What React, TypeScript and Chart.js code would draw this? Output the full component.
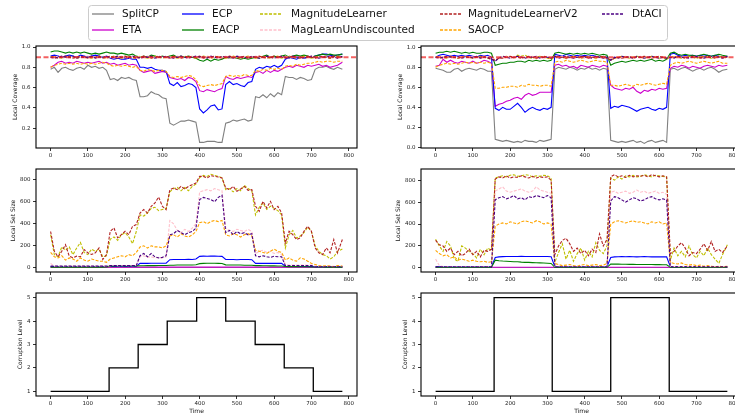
import React, { useEffect, useRef } from 'react';
import { Chart, registerables } from 'chart.js';

Chart.register(...registerables);

// ---------------- DATA ----------------
const METHODS = ['SplitCP', 'ETA', 'ECP', 'EACP', 'MagnitudeLearner', 'MagLearnUndiscounted', 'MagnitudeLearnerV2', 'SAOCP', 'DtACI'];
const COLORS = ['#808080', '#cc00cc', '#0000ff', '#008000', '#bfbf00', '#ffc0cb', '#b22222', '#ffa500', '#4b0082'];
const DASHED = [false, false, false, false, true, true, true, true, true];

const TIME = [
  0, 10, 20, 30, 40, 50, 60, 70, 80, 90,
  100, 110, 120, 130, 140, 150, 160, 170, 180, 190,
  200, 210, 220, 230, 240, 250, 260, 270, 280, 290,
  300, 310, 320, 330, 340, 350, 360, 370, 380, 390,
  400, 410, 420, 430, 440, 450, 460, 470, 480, 490,
  500, 510, 520, 530, 540, 550, 560, 570, 580, 590,
  600, 610, 620, 630, 640, 650, 660, 670, 680, 690,
  700, 710, 720, 730, 740, 750, 760, 770,
  783,
];

const TARGET_COVERAGE = 0.9;
const X_TICKS = [0, 100, 200, 300, 400, 500, 600, 700, 800];
const COV_TICKS_L = [0.2, 0.4, 0.6, 0.8, 1.0];
const COV_TICKS_R = [0.0, 0.2, 0.4, 0.6, 0.8, 1.0];
const SIZE_TICKS = [0, 200, 400, 600, 800];
const LEVEL_TICKS = [1, 2, 3, 4, 5];

const LEVEL_TIMES_L = [0, 157, 235, 313, 392, 470, 549, 627, 705, 783];
const LEVEL_VALUES_L = [1, 2, 3, 4, 5, 4, 3, 2, 1, 1];
const LEVEL_TIMES_R = [0, 157, 313, 470, 627, 783];
const LEVEL_VALUES_R = [1, 5, 1, 5, 1, 1];

// ----- Local coverage, gradual corruption (left) -----
const COV_L_SPLITCP = [
  0.78, 0.80, 0.75, 0.79, 0.80, 0.78, 0.77, 0.79, 0.80, 0.78,
  0.82, 0.80, 0.81, 0.79, 0.80, 0.77, 0.68, 0.69, 0.67, 0.70,
  0.69, 0.70, 0.68, 0.67, 0.51, 0.51, 0.52, 0.56, 0.54, 0.53,
  0.50, 0.49, 0.25, 0.23, 0.25, 0.27, 0.27, 0.28, 0.27, 0.26,
  0.06, 0.06, 0.07, 0.07, 0.07, 0.06, 0.06, 0.25, 0.26, 0.28,
  0.27, 0.28, 0.29, 0.27, 0.28, 0.51, 0.50, 0.53, 0.50, 0.54,
  0.51, 0.55, 0.53, 0.71, 0.70, 0.70, 0.68, 0.70, 0.69, 0.67,
  0.68, 0.78, 0.80, 0.80, 0.81, 0.79, 0.78, 0.80,
  0.78,
];
const COV_L_ETA = [
  0.80, 0.82, 0.85, 0.86, 0.84, 0.85, 0.84, 0.86, 0.85, 0.84,
  0.85, 0.84, 0.85, 0.86, 0.84, 0.85, 0.83, 0.84, 0.82, 0.83,
  0.84, 0.82, 0.83, 0.82, 0.77, 0.75, 0.76, 0.77, 0.74, 0.75,
  0.76, 0.75, 0.70, 0.69, 0.68, 0.69, 0.67, 0.70, 0.69, 0.66,
  0.57, 0.56, 0.58, 0.57, 0.56, 0.58, 0.59, 0.71, 0.69, 0.68,
  0.70, 0.69, 0.70, 0.71, 0.70, 0.75, 0.76, 0.74, 0.77, 0.75,
  0.77, 0.76, 0.78, 0.80, 0.81, 0.80, 0.82, 0.81, 0.80, 0.82,
  0.81, 0.82, 0.83, 0.81, 0.82, 0.80, 0.81, 0.82,
  0.85,
];
const COV_L_ECP = [
  0.91, 0.92, 0.91, 0.90, 0.91, 0.92, 0.91, 0.90, 0.92, 0.91,
  0.90, 0.91, 0.92, 0.91, 0.90, 0.91, 0.89, 0.88, 0.89, 0.88,
  0.88, 0.89, 0.88, 0.88, 0.80, 0.80, 0.79, 0.80, 0.78, 0.77,
  0.77, 0.76, 0.64, 0.62, 0.65, 0.61, 0.62, 0.64, 0.63, 0.60,
  0.39, 0.35, 0.38, 0.42, 0.43, 0.38, 0.39, 0.63, 0.66, 0.63,
  0.64, 0.62, 0.61, 0.65, 0.66, 0.78, 0.80, 0.79, 0.81, 0.80,
  0.82, 0.80, 0.82, 0.88, 0.90, 0.89, 0.88, 0.90, 0.89, 0.90,
  0.90, 0.91, 0.92, 0.93, 0.93, 0.92, 0.91, 0.92,
  0.93,
];
const COV_L_EACP = [
  0.95, 0.96, 0.96, 0.95, 0.94, 0.95, 0.94, 0.95, 0.94, 0.95,
  0.94, 0.93, 0.94, 0.93, 0.94, 0.95, 0.94, 0.94, 0.93, 0.94,
  0.93, 0.92, 0.93, 0.91, 0.90, 0.91, 0.90, 0.92, 0.91, 0.90,
  0.91, 0.90, 0.91, 0.92, 0.90, 0.91, 0.90, 0.91, 0.90, 0.89,
  0.87, 0.86, 0.88, 0.86, 0.88, 0.87, 0.88, 0.90, 0.89, 0.90,
  0.89, 0.88, 0.89, 0.88, 0.89, 0.90, 0.89, 0.91, 0.92, 0.90,
  0.91, 0.90, 0.91, 0.92, 0.90, 0.91, 0.92, 0.91, 0.92, 0.91,
  0.90, 0.91, 0.92, 0.93, 0.92, 0.93, 0.92, 0.92,
  0.93,
];
const COV_L_ML = [
  0.90, 0.91, 0.90, 0.89, 0.90, 0.91, 0.90, 0.89, 0.90, 0.91,
  0.90, 0.89, 0.90, 0.91, 0.90, 0.89, 0.90, 0.91, 0.90, 0.89,
  0.90, 0.91, 0.89, 0.90, 0.91, 0.90, 0.89, 0.90, 0.91, 0.90,
  0.89, 0.90, 0.91, 0.90, 0.89, 0.90, 0.91, 0.90, 0.90, 0.89,
  0.90, 0.91, 0.90, 0.89, 0.90, 0.91, 0.90, 0.89, 0.90, 0.91,
  0.90, 0.89, 0.90, 0.91, 0.90, 0.89, 0.90, 0.91, 0.90, 0.89,
  0.90, 0.91, 0.89, 0.90, 0.91, 0.90, 0.89, 0.90, 0.91, 0.90,
  0.89, 0.90, 0.91, 0.90, 0.90, 0.89, 0.90, 0.91,
  0.90,
];
const COV_L_MLU = [
  0.89, 0.90, 0.91, 0.90, 0.90, 0.89, 0.90, 0.91, 0.90, 0.90,
  0.91, 0.90, 0.89, 0.90, 0.91, 0.90, 0.89, 0.90, 0.90, 0.91,
  0.90, 0.89, 0.90, 0.91, 0.90, 0.90, 0.91, 0.89, 0.90, 0.90,
  0.91, 0.89, 0.90, 0.90, 0.91, 0.90, 0.89, 0.90, 0.91, 0.90,
  0.89, 0.90, 0.91, 0.90, 0.89, 0.90, 0.90, 0.91, 0.89, 0.90,
  0.90, 0.91, 0.89, 0.90, 0.90, 0.91, 0.90, 0.89, 0.90, 0.91,
  0.90, 0.89, 0.90, 0.91, 0.90, 0.90, 0.91, 0.89, 0.90, 0.90,
  0.91, 0.90, 0.89, 0.90, 0.91, 0.90, 0.90, 0.89,
  0.90,
];
const COV_L_MLV2 = [
  0.90, 0.90, 0.89, 0.90, 0.91, 0.90, 0.89, 0.90, 0.91, 0.90,
  0.89, 0.90, 0.90, 0.91, 0.89, 0.90, 0.91, 0.90, 0.89, 0.90,
  0.91, 0.90, 0.90, 0.89, 0.90, 0.91, 0.90, 0.89, 0.90, 0.91,
  0.90, 0.90, 0.89, 0.91, 0.90, 0.89, 0.90, 0.91, 0.90, 0.90,
  0.91, 0.89, 0.90, 0.90, 0.91, 0.90, 0.89, 0.90, 0.91, 0.90,
  0.89, 0.90, 0.91, 0.89, 0.90, 0.90, 0.91, 0.90, 0.89, 0.90,
  0.91, 0.90, 0.90, 0.89, 0.90, 0.91, 0.90, 0.89, 0.90, 0.91,
  0.90, 0.89, 0.90, 0.91, 0.90, 0.89, 0.91, 0.90,
  0.90,
];
const COV_L_SAOCP = [
  0.80, 0.82, 0.83, 0.84, 0.83, 0.84, 0.83, 0.84, 0.83, 0.84,
  0.83, 0.84, 0.83, 0.84, 0.85, 0.84, 0.82, 0.81, 0.82, 0.81,
  0.82, 0.81, 0.80, 0.81, 0.77, 0.76, 0.78, 0.77, 0.76, 0.77,
  0.77, 0.76, 0.71, 0.70, 0.71, 0.70, 0.71, 0.72, 0.71, 0.68,
  0.62, 0.61, 0.62, 0.63, 0.62, 0.63, 0.64, 0.71, 0.72, 0.71,
  0.72, 0.71, 0.73, 0.72, 0.72, 0.77, 0.76, 0.78, 0.77, 0.79,
  0.78, 0.79, 0.78, 0.81, 0.82, 0.81, 0.83, 0.82, 0.83, 0.84,
  0.84, 0.85, 0.86, 0.85, 0.86, 0.86, 0.85, 0.86,
  0.86,
];
const COV_L_DTACI = [
  0.90, 0.89, 0.90, 0.91, 0.90, 0.90, 0.91, 0.89, 0.90, 0.90,
  0.90, 0.91, 0.89, 0.90, 0.90, 0.91, 0.89, 0.90, 0.91, 0.90,
  0.89, 0.90, 0.91, 0.90, 0.89, 0.90, 0.90, 0.91, 0.89, 0.90,
  0.90, 0.91, 0.90, 0.89, 0.90, 0.91, 0.90, 0.89, 0.90, 0.91,
  0.90, 0.90, 0.89, 0.91, 0.90, 0.89, 0.91, 0.90, 0.90, 0.89,
  0.91, 0.90, 0.90, 0.89, 0.91, 0.90, 0.89, 0.90, 0.91, 0.90,
  0.89, 0.90, 0.91, 0.90, 0.89, 0.91, 0.90, 0.90, 0.89, 0.90,
  0.91, 0.90, 0.89, 0.90, 0.90, 0.91, 0.90, 0.89,
  0.91,
];

// ----- Local coverage, sudden corruption (right) -----
const COV_R_SPLITCP = [
  0.79, 0.78, 0.77, 0.75, 0.75, 0.78, 0.79, 0.76, 0.78, 0.79,
  0.78, 0.77, 0.79, 0.78, 0.76, 0.76, 0.08, 0.07, 0.06, 0.07,
  0.06, 0.05, 0.06, 0.05, 0.07, 0.06, 0.06, 0.05, 0.07, 0.06,
  0.07, 0.08, 0.78, 0.80, 0.79, 0.78, 0.80, 0.79, 0.77, 0.79,
  0.78, 0.80, 0.78, 0.79, 0.77, 0.79, 0.78, 0.07, 0.06, 0.05,
  0.06, 0.05, 0.06, 0.07, 0.05, 0.06, 0.04, 0.06, 0.07, 0.05,
  0.06, 0.07, 0.05, 0.78, 0.79, 0.77, 0.79, 0.80, 0.78, 0.76,
  0.78, 0.79, 0.77, 0.79, 0.80, 0.78, 0.75, 0.77,
  0.78,
];
const COV_R_ETA = [
  0.81, 0.82, 0.88, 0.85, 0.87, 0.85, 0.84, 0.86, 0.85, 0.84,
  0.86, 0.84, 0.85, 0.87, 0.86, 0.84, 0.41, 0.43, 0.44, 0.46,
  0.47, 0.49, 0.50, 0.48, 0.52, 0.54, 0.52, 0.53, 0.55, 0.55,
  0.55, 0.55, 0.82, 0.83, 0.81, 0.82, 0.80, 0.81, 0.79, 0.82,
  0.81, 0.80, 0.82, 0.81, 0.80, 0.82, 0.81, 0.62, 0.59, 0.58,
  0.57, 0.59, 0.58, 0.60, 0.56, 0.54, 0.57, 0.56, 0.58, 0.57,
  0.59, 0.58, 0.59, 0.79, 0.81, 0.80, 0.82, 0.81, 0.79, 0.81,
  0.80, 0.79, 0.81, 0.82, 0.81, 0.80, 0.82, 0.81,
  0.82,
];
const COV_R_ECP = [
  0.90, 0.92, 0.93, 0.92, 0.91, 0.92, 0.91, 0.92, 0.91, 0.92,
  0.91, 0.90, 0.92, 0.91, 0.92, 0.90, 0.39, 0.37, 0.40, 0.38,
  0.38, 0.41, 0.44, 0.40, 0.35, 0.38, 0.40, 0.38, 0.37, 0.39,
  0.38, 0.40, 0.93, 0.92, 0.91, 0.93, 0.92, 0.91, 0.92, 0.91,
  0.92, 0.91, 0.92, 0.91, 0.90, 0.91, 0.90, 0.39, 0.41, 0.40,
  0.42, 0.41, 0.40, 0.38, 0.36, 0.38, 0.39, 0.40, 0.38, 0.37,
  0.39, 0.38, 0.40, 0.93, 0.94, 0.92, 0.91, 0.92, 0.91, 0.92,
  0.91, 0.92, 0.91, 0.92, 0.91, 0.92, 0.91, 0.90,
  0.91,
];
const COV_R_EACP = [
  0.94, 0.95, 0.95, 0.96, 0.95, 0.96, 0.95, 0.94, 0.95, 0.94,
  0.95, 0.94, 0.94, 0.95, 0.95, 0.94, 0.82, 0.83, 0.84, 0.84,
  0.85, 0.85, 0.86, 0.86, 0.85, 0.87, 0.86, 0.87, 0.86, 0.87,
  0.86, 0.87, 0.94, 0.95, 0.94, 0.93, 0.94, 0.93, 0.94, 0.93,
  0.94, 0.93, 0.94, 0.93, 0.92, 0.93, 0.92, 0.82, 0.84, 0.85,
  0.86, 0.85, 0.86, 0.87, 0.86, 0.87, 0.86, 0.87, 0.88, 0.86,
  0.87, 0.86, 0.88, 0.94, 0.95, 0.93, 0.92, 0.93, 0.92, 0.92,
  0.91, 0.92, 0.93, 0.92, 0.91, 0.92, 0.93, 0.92,
  0.91,
];
const COV_R_ML = [
  0.90, 0.91, 0.90, 0.89, 0.91, 0.90, 0.89, 0.90, 0.91, 0.90,
  0.89, 0.90, 0.91, 0.90, 0.89, 0.88, 0.87, 0.89, 0.90, 0.91,
  0.90, 0.89, 0.92, 0.91, 0.92, 0.90, 0.89, 0.90, 0.91, 0.90,
  0.89, 0.88, 0.90, 0.91, 0.90, 0.89, 0.90, 0.91, 0.90, 0.89,
  0.90, 0.91, 0.90, 0.89, 0.90, 0.91, 0.89, 0.87, 0.89, 0.90,
  0.91, 0.90, 0.89, 0.90, 0.91, 0.90, 0.89, 0.90, 0.91, 0.90,
  0.89, 0.90, 0.88, 0.90, 0.91, 0.90, 0.89, 0.90, 0.91, 0.90,
  0.89, 0.90, 0.91, 0.90, 0.89, 0.90, 0.91, 0.90,
  0.90,
];
const COV_R_MLU = [
  0.89, 0.90, 0.91, 0.90, 0.90, 0.89, 0.90, 0.91, 0.90, 0.90,
  0.91, 0.90, 0.89, 0.90, 0.91, 0.89, 0.88, 0.90, 0.90, 0.91,
  0.90, 0.89, 0.90, 0.91, 0.90, 0.90, 0.91, 0.89, 0.90, 0.90,
  0.91, 0.89, 0.91, 0.90, 0.91, 0.90, 0.89, 0.90, 0.91, 0.90,
  0.89, 0.90, 0.91, 0.90, 0.89, 0.90, 0.90, 0.88, 0.89, 0.90,
  0.90, 0.91, 0.89, 0.90, 0.90, 0.91, 0.90, 0.89, 0.90, 0.91,
  0.90, 0.89, 0.90, 0.91, 0.90, 0.90, 0.91, 0.89, 0.90, 0.90,
  0.91, 0.90, 0.89, 0.90, 0.91, 0.90, 0.90, 0.89,
  0.90,
];
const COV_R_MLV2 = [
  0.90, 0.90, 0.89, 0.90, 0.91, 0.90, 0.89, 0.90, 0.91, 0.90,
  0.89, 0.90, 0.90, 0.91, 0.89, 0.88, 0.87, 0.89, 0.89, 0.90,
  0.91, 0.90, 0.90, 0.89, 0.90, 0.91, 0.90, 0.89, 0.90, 0.91,
  0.90, 0.89, 0.91, 0.91, 0.90, 0.89, 0.90, 0.91, 0.90, 0.90,
  0.91, 0.89, 0.90, 0.90, 0.91, 0.90, 0.89, 0.87, 0.89, 0.90,
  0.89, 0.90, 0.91, 0.89, 0.90, 0.90, 0.91, 0.90, 0.89, 0.90,
  0.91, 0.90, 0.89, 0.90, 0.90, 0.91, 0.90, 0.89, 0.90, 0.91,
  0.90, 0.89, 0.90, 0.91, 0.90, 0.89, 0.91, 0.90,
  0.90,
];
const COV_R_SAOCP = [
  0.80, 0.82, 0.83, 0.84, 0.83, 0.84, 0.83, 0.84, 0.85, 0.84,
  0.85, 0.84, 0.85, 0.84, 0.85, 0.84, 0.59, 0.59, 0.60, 0.60,
  0.61, 0.61, 0.60, 0.62, 0.61, 0.63, 0.62, 0.62, 0.61, 0.62,
  0.62, 0.61, 0.85, 0.86, 0.85, 0.87, 0.86, 0.85, 0.86, 0.87,
  0.86, 0.85, 0.86, 0.87, 0.86, 0.86, 0.85, 0.62, 0.62, 0.61,
  0.62, 0.63, 0.62, 0.61, 0.63, 0.62, 0.63, 0.64, 0.63, 0.62,
  0.63, 0.64, 0.63, 0.82, 0.84, 0.85, 0.84, 0.85, 0.86, 0.85,
  0.84, 0.85, 0.86, 0.85, 0.84, 0.85, 0.86, 0.84,
  0.84,
];
const COV_R_DTACI = [
  0.90, 0.89, 0.90, 0.91, 0.90, 0.90, 0.91, 0.89, 0.90, 0.90,
  0.90, 0.91, 0.89, 0.90, 0.90, 0.88, 0.86, 0.89, 0.91, 0.90,
  0.89, 0.90, 0.91, 0.90, 0.89, 0.90, 0.90, 0.91, 0.89, 0.90,
  0.90, 0.89, 0.91, 0.89, 0.90, 0.91, 0.90, 0.89, 0.90, 0.91,
  0.90, 0.90, 0.89, 0.91, 0.90, 0.89, 0.90, 0.87, 0.90, 0.89,
  0.91, 0.90, 0.90, 0.89, 0.91, 0.90, 0.89, 0.90, 0.91, 0.90,
  0.89, 0.90, 0.89, 0.90, 0.89, 0.91, 0.90, 0.90, 0.89, 0.90,
  0.91, 0.90, 0.89, 0.90, 0.90, 0.91, 0.90, 0.89,
  0.91,
];

// ----- Local set size, gradual corruption (left) -----
const SIZE_L_SPLITCP = [
  3, 3, 3, 3, 3, 3, 3, 3, 3, 3,
  3, 3, 3, 3, 3, 3, 3, 3, 3, 3,
  3, 3, 3, 3, 3, 3, 3, 3, 3, 3,
  3, 3, 3, 3, 3, 3, 3, 3, 3, 3,
  3, 3, 3, 3, 3, 3, 3, 3, 3, 3,
  3, 3, 3, 3, 3, 3, 3, 3, 3, 3,
  3, 3, 3, 3, 3, 3, 3, 3, 3, 3,
  3, 3, 3, 3, 3, 3, 3, 3,
  3,
];
const SIZE_L_ETA = [
  6, 6, 6, 6, 6, 6, 6, 6, 6, 6,
  6, 6, 6, 6, 6, 6, 6, 6, 6, 6,
  6, 6, 6, 6, 6, 6, 6, 6, 6, 6,
  6, 6, 6, 6, 6, 6, 6, 6, 6, 6,
  6, 6, 6, 6, 6, 6, 6, 6, 6, 6,
  6, 6, 6, 6, 6, 6, 6, 6, 6, 6,
  6, 6, 6, 6, 6, 6, 6, 6, 6, 6,
  6, 6, 6, 6, 6, 6, 6, 6,
  6,
];
const SIZE_L_ECP = [
  12, 12, 12, 12, 12, 12, 12, 12, 12, 12,
  12, 12, 12, 12, 12, 12, 13, 13, 13, 13,
  13, 13, 13, 14, 40, 41, 40, 41, 42, 41,
  41, 42, 74, 75, 76, 75, 76, 77, 76, 80,
  104, 106, 105, 107, 106, 105, 104, 76, 75, 76,
  74, 75, 76, 75, 74, 40, 41, 40, 41, 40,
  41, 40, 40, 13, 12, 12, 12, 12, 12, 12,
  12, 11, 11, 11, 11, 11, 11, 11,
  11,
];
const SIZE_L_EACP = [
  6, 6, 6, 6, 6, 6, 6, 6, 6, 6,
  6, 6, 6, 6, 6, 7, 15, 16, 16, 17,
  17, 17, 18, 18, 19, 19, 20, 20, 20, 21,
  21, 21, 24, 24, 25, 25, 26, 26, 26, 28,
  38, 40, 41, 42, 41, 40, 39, 27, 26, 26,
  25, 25, 24, 24, 23, 20, 20, 19, 19, 18,
  18, 17, 17, 12, 11, 11, 11, 10, 10, 10,
  8, 7, 7, 7, 6, 6, 6, 6,
  6,
];
const SIZE_L_ML = [
  300, 120, 100, 190, 160, 190, 120, 180, 230, 140,
  120, 170, 150, 170, 100, 110, 260, 280, 250, 300,
  320, 280, 220, 330, 480, 470, 500, 540, 550, 520,
  530, 540, 690, 720, 730, 700, 730, 700, 740, 760,
  820, 840, 830, 850, 840, 830, 820, 710, 720, 690,
  720, 700, 750, 720, 700, 480, 550, 590, 530, 560,
  540, 520, 480, 180, 300, 340, 270, 290, 320, 370,
  330, 200, 150, 120, 110, 80, 100, 150,
  170,
];
const SIZE_L_MLU = [
  40, 15, 15, 14, 15, 16, 15, 14, 15, 15,
  15, 14, 15, 16, 15, 15, 20, 21, 20, 20,
  21, 20, 20, 21, 100, 110, 95, 100, 90, 95,
  90, 100, 430, 400, 340, 320, 350, 330, 360, 400,
  690, 700, 710, 700, 720, 710, 700, 360, 340, 330,
  350, 340, 330, 350, 330, 130, 150, 160, 140, 150,
  130, 140, 120, 30, 25, 25, 24, 25, 25, 24,
  25, 15, 15, 14, 15, 15, 14, 15,
  15,
];
const SIZE_L_MLV2 = [
  330, 150, 100, 150, 210, 106, 91, 106, 100, 166,
  136, 121, 136, 181, 76, 121, 332, 363, 272, 302,
  332, 302, 378, 393, 498, 529, 498, 559, 589, 643,
  559, 529, 710, 725, 710, 740, 716, 740, 755, 770,
  831, 831, 816, 837, 831, 825, 816, 725, 710, 740,
  695, 716, 740, 704, 710, 559, 514, 604, 544, 604,
  529, 559, 498, 227, 332, 302, 257, 272, 332, 378,
  332, 181, 136, 121, 181, 136, 257, 136,
  257,
];
const SIZE_L_SAOCP = [
  140, 100, 90, 110, 70, 90, 80, 60, 90, 70,
  60, 80, 70, 60, 60, 50, 80, 90, 100, 110,
  100, 120, 110, 140, 190, 200, 180, 200, 190, 190,
  180, 200, 290, 300, 280, 310, 290, 280, 300, 330,
  410, 420, 400, 420, 430, 420, 430, 300, 290, 310,
  300, 280, 300, 310, 290, 160, 150, 140, 130, 150,
  170, 150, 140, 70, 90, 70, 60, 90, 80, 60,
  40, 30, 20, 15, 20, 15, 10, 20,
  15,
];
const SIZE_L_DTACI = [
  15, 15, 15, 15, 15, 15, 15, 15, 15, 15,
  15, 15, 15, 15, 15, 15, 20, 20, 20, 20,
  20, 20, 20, 21, 110, 130, 100, 130, 100, 90,
  95, 110, 300, 310, 340, 320, 300, 320, 330, 360,
  620, 640, 630, 620, 600, 640, 660, 320, 340, 300,
  330, 310, 320, 300, 310, 110, 100, 110, 100, 95,
  105, 100, 100, 20, 20, 20, 20, 20, 20, 20,
  20, 10, 10, 10, 10, 10, 10, 10,
  10,
];

// ----- Local set size, sudden corruption (right) -----
const SIZE_R_SPLITCP = [
  3, 3, 3, 3, 3, 3, 3, 3, 3, 3,
  3, 3, 3, 3, 3, 3, 3, 3, 3, 3,
  3, 3, 3, 3, 3, 3, 3, 3, 3, 3,
  3, 3, 3, 3, 3, 3, 3, 3, 3, 3,
  3, 3, 3, 3, 3, 3, 3, 3, 3, 3,
  3, 3, 3, 3, 3, 3, 3, 3, 3, 3,
  3, 3, 3, 3, 3, 3, 3, 3, 3, 3,
  3, 3, 3, 3, 3, 3, 3, 3,
  3,
];
const SIZE_R_ETA = [
  6, 6, 6, 6, 6, 6, 6, 6, 6, 6,
  6, 6, 6, 6, 6, 6, 6, 6, 6, 6,
  6, 6, 6, 6, 6, 6, 6, 6, 6, 6,
  6, 6, 6, 6, 6, 6, 6, 6, 6, 6,
  6, 6, 6, 6, 6, 6, 6, 6, 6, 6,
  6, 6, 6, 6, 6, 6, 6, 6, 6, 6,
  6, 6, 6, 6, 6, 6, 6, 6, 6, 6,
  6, 6, 6, 6, 6, 6, 6, 6,
  6,
];
const SIZE_R_ECP = [
  10, 10, 10, 10, 10, 10, 10, 10, 10, 10,
  10, 10, 10, 10, 10, 10, 95, 100, 102, 103,
  104, 103, 104, 105, 104, 103, 104, 103, 104, 103,
  104, 102, 10, 10, 10, 10, 10, 10, 10, 10,
  10, 10, 10, 10, 10, 10, 10, 95, 100, 101,
  102, 101, 102, 101, 100, 101, 102, 101, 100, 101,
  100, 101, 100, 10, 10, 10, 10, 10, 10, 10,
  10, 10, 10, 10, 10, 10, 10, 10,
  10,
];
const SIZE_R_EACP = [
  5, 5, 5, 5, 5, 5, 5, 5, 5, 5,
  5, 5, 5, 5, 5, 5, 70, 65, 62, 60,
  58, 55, 55, 52, 50, 50, 48, 46, 45, 44,
  42, 40, 5, 5, 5, 5, 5, 5, 5, 5,
  5, 5, 5, 5, 5, 5, 5, 35, 34, 34,
  33, 33, 32, 32, 31, 31, 30, 30, 30, 29,
  29, 28, 28, 5, 5, 5, 5, 5, 5, 5,
  5, 5, 5, 5, 5, 5, 5, 5,
  5,
];
const SIZE_R_ML = [
  260, 200, 150, 240, 200, 80, 60, 200, 180, 150,
  130, 90, 170, 120, 180, 160, 820, 830, 840, 830,
  845, 850, 835, 840, 850, 845, 830, 840, 835, 845,
  840, 820, 50, 140, 220, 80, 160, 60, 130, 180,
  70, 150, 100, 230, 160, 130, 200, 820, 800, 830,
  810, 840, 830, 845, 830, 835, 850, 840, 830, 845,
  840, 835, 830, 70, 180, 110, 150, 100, 200, 120,
  90, 150, 110, 180, 120, 80, 40, 120,
  210,
];
const SIZE_R_MLU = [
  80, 20, 12, 12, 12, 12, 12, 12, 12, 12,
  12, 12, 12, 12, 12, 12, 700, 720, 740, 700,
  690, 700, 710, 720, 700, 690, 700, 740, 710, 700,
  690, 680, 12, 12, 12, 12, 12, 12, 12, 12,
  12, 12, 12, 12, 12, 12, 12, 690, 700, 680,
  690, 700, 680, 690, 710, 690, 700, 680, 690, 700,
  680, 690, 670, 12, 12, 12, 12, 12, 12, 12,
  12, 12, 12, 12, 12, 12, 12, 12,
  12,
];
const SIZE_R_MLV2 = [
  250, 210, 200, 150, 180, 120, 150, 110, 130, 170,
  120, 150, 100, 160, 150, 170, 810, 830, 820, 840,
  820, 830, 825, 840, 830, 820, 835, 820, 830, 825,
  830, 800, 120, 200, 250, 270, 220, 150, 180, 130,
  160, 110, 170, 140, 310, 200, 260, 830, 850, 830,
  840, 825, 845, 830, 840, 835, 845, 830, 850, 840,
  830, 840, 830, 130, 150, 200, 230, 180, 110, 140,
  130, 170, 220, 160, 240, 150, 170, 140,
  200,
];
const SIZE_R_SAOCP = [
  160, 130, 110, 120, 90, 100, 70, 80, 70, 60,
  70, 60, 55, 60, 50, 55, 380, 400, 410, 400,
  420, 410, 400, 420, 430, 420, 410, 430, 420, 400,
  410, 400, 40, 30, 20, 25, 30, 20, 15, 25,
  30, 20, 25, 30, 20, 25, 40, 400, 420, 430,
  420, 410, 420, 430, 415, 420, 410, 400, 420, 410,
  420, 400, 410, 50, 40, 35, 45, 30, 25, 30,
  20, 25, 15, 20, 15, 10, 15, 10,
  15,
];
const SIZE_R_DTACI = [
  10, 10, 10, 10, 10, 10, 10, 10, 10, 10,
  10, 10, 10, 10, 10, 10, 620, 640, 650, 630,
  640, 660, 630, 640, 620, 650, 640, 660, 650, 640,
  660, 640, 10, 10, 10, 10, 10, 10, 10, 10,
  10, 10, 10, 10, 10, 10, 10, 610, 650, 640,
  620, 600, 620, 640, 630, 610, 620, 640, 650, 630,
  620, 630, 620, 10, 10, 10, 10, 10, 10, 10,
  10, 10, 10, 10, 10, 10, 10, 10,
  10,
];

const COV_L = [COV_L_SPLITCP, COV_L_ETA, COV_L_ECP, COV_L_EACP, COV_L_ML, COV_L_MLU, COV_L_MLV2, COV_L_SAOCP, COV_L_DTACI];
const COV_R = [COV_R_SPLITCP, COV_R_ETA, COV_R_ECP, COV_R_EACP, COV_R_ML, COV_R_MLU, COV_R_MLV2, COV_R_SAOCP, COV_R_DTACI];
const SIZE_L = [SIZE_L_SPLITCP, SIZE_L_ETA, SIZE_L_ECP, SIZE_L_EACP, SIZE_L_ML, SIZE_L_MLU, SIZE_L_MLV2, SIZE_L_SAOCP, SIZE_L_DTACI];
const SIZE_R = [SIZE_R_SPLITCP, SIZE_R_ETA, SIZE_R_ECP, SIZE_R_EACP, SIZE_R_ML, SIZE_R_MLU, SIZE_R_MLV2, SIZE_R_SAOCP, SIZE_R_DTACI];

// ---------------- STYLE / LAYOUT ----------------
const FONT = '"DejaVu Sans", "Liberation Sans", sans-serif';
const TICK_SIZE = 5.5;
const LABEL_SIZE = 6;
const X_MIN = -39.2;
const X_MAX = 822.3;
const Y_AXIS_W = 36;
const PAD_TOP = 6;
const PAD_RIGHT = 8;
const LINE_W = 1.1;
const DASH = [3, 1.5];

const framePlugin = {
  id: 'frame',
  afterDraw(chart: any) {
    const { ctx, chartArea: a } = chart;
    if (!a) return;
    ctx.save();
    ctx.strokeStyle = '#000';
    ctx.lineWidth = 1.1;
    ctx.setLineDash([]);
    ctx.strokeRect(a.left, a.top, a.right - a.left, a.bottom - a.top);
    ctx.restore();
  },
};

function methodDatasets(values: number[][], withTarget: boolean) {
  const ds: any[] = METHODS.map((name, i) => ({
    label: name,
    data: TIME.map((t, k) => ({ x: t, y: values[i][k] })),
    borderColor: COLORS[i],
    backgroundColor: COLORS[i],
    borderWidth: LINE_W,
    borderDash: DASHED[i] ? DASH : [],
    pointRadius: 0,
    fill: false,
    tension: 0,
    order: METHODS.length - i + 1,
  }));
  if (withTarget) {
    ds.push({
      label: 'target',
      data: [{ x: X_MIN, y: TARGET_COVERAGE }, { x: X_MAX, y: TARGET_COVERAGE }],
      borderColor: 'rgba(238, 30, 30, 0.7)',
      borderWidth: 2,
      borderDash: [5, 2.5],
      pointRadius: 0,
      fill: false,
      order: 0,
    });
  }
  return ds;
}

function levelDatasets(times: number[], levels: number[]) {
  return [{
    label: 'level',
    data: times.map((t, k) => ({ x: t, y: levels[k] })),
    borderColor: '#000',
    borderWidth: 1.3,
    pointRadius: 0,
    stepped: true,
    fill: false,
  }];
}

type Spec = {
  key: string; x: number; y: number; w: number; h: number; xAxisH: number;
  datasets: any[]; yMin: number; yMax: number; yTicks: number[]; yFmt: (v: number) => string;
  yTitle: string; yTitlePad: number; xTitle?: string;
};

const fmt1 = (v: number) => Number(v).toFixed(1);
const fmt0 = (v: number) => String(Math.round(Number(v)));

function buildConfig(p: Spec): any {
  return {
    type: 'line',
    data: { datasets: p.datasets },
    options: {
      animation: false,
      responsive: false,
      devicePixelRatio: 1,
      events: [],
      layout: { padding: { top: PAD_TOP, right: PAD_RIGHT, bottom: 0, left: 0 } },
      plugins: { legend: { display: false }, tooltip: { enabled: false } },
      scales: {
        x: {
          type: 'linear',
          min: X_MIN,
          max: X_MAX,
          afterBuildTicks: (s: any) => { s.ticks = X_TICKS.map((v) => ({ value: v })); },
          afterFit: (s: any) => { s.height = p.xAxisH; },
          ticks: {
            autoSkip: false, maxRotation: 0, minRotation: 0, padding: 1.5,
            color: '#222', font: { family: FONT, size: TICK_SIZE },
            callback: (v: any) => fmt0(v),
          },
          grid: { display: true, drawOnChartArea: false, drawTicks: true, tickLength: 3, color: '#000', lineWidth: 0.8 },
          border: { display: false },
          title: {
            display: !!p.xTitle, text: p.xTitle || '', color: '#111',
            font: { family: FONT, size: LABEL_SIZE }, padding: { top: 0, bottom: 2.4 },
          },
        },
        y: {
          type: 'linear',
          min: p.yMin,
          max: p.yMax,
          afterBuildTicks: (s: any) => { s.ticks = p.yTicks.map((v) => ({ value: v })); },
          afterFit: (s: any) => { s.width = Y_AXIS_W; },
          ticks: {
            autoSkip: false, padding: 2.5, color: '#222',
            font: { family: FONT, size: TICK_SIZE },
            callback: (v: any) => p.yFmt(v),
          },
          grid: { display: true, drawOnChartArea: false, drawTicks: true, tickLength: 3, color: '#000', lineWidth: 0.8 },
          border: { display: false },
          title: {
            display: true, text: p.yTitle, color: '#111',
            font: { family: FONT, size: LABEL_SIZE }, padding: { top: p.yTitlePad, bottom: 0 },
          },
        },
      },
    },
    plugins: [framePlugin],
  };
}

const COL_X = [0, 385];
const COL_W = 365;

const SPECS: Spec[] = [
  { key: 'covL', x: COL_X[0], y: 40, w: COL_W, h: 122, xAxisH: 14, datasets: methodDatasets(COV_L, true),
    yMin: 0.005, yMax: 1.01, yTicks: COV_TICKS_L, yFmt: fmt1, yTitle: 'Local Coverage', yTitlePad: 11.4 },
  { key: 'covR', x: COL_X[1], y: 40, w: COL_W, h: 122, xAxisH: 14, datasets: methodDatasets(COV_R, true),
    yMin: -0.006, yMax: 1.012, yTicks: COV_TICKS_R, yFmt: fmt1, yTitle: 'Local Coverage', yTitlePad: 11.4 },
  { key: 'sizeL', x: COL_X[0], y: 163, w: COL_W, h: 123, xAxisH: 14, datasets: methodDatasets(SIZE_L, false),
    yMin: -38, yMax: 898, yTicks: SIZE_TICKS, yFmt: fmt0, yTitle: 'Local Set Size', yTitlePad: 9.5 },
  { key: 'sizeR', x: COL_X[1], y: 163, w: COL_W, h: 123, xAxisH: 14, datasets: methodDatasets(SIZE_R, false),
    yMin: -38, yMax: 902, yTicks: SIZE_TICKS, yFmt: fmt0, yTitle: 'Local Set Size', yTitlePad: 9.5 },
  { key: 'lvlL', x: COL_X[0], y: 287, w: COL_W, h: 130, xAxisH: 21, datasets: levelDatasets(LEVEL_TIMES_L, LEVEL_VALUES_L),
    yMin: 0.8, yMax: 5.2, yTicks: LEVEL_TICKS, yFmt: fmt0, yTitle: 'Corruption Level', yTitlePad: 17, xTitle: 'Time' },
  { key: 'lvlR', x: COL_X[1], y: 287, w: COL_W, h: 130, xAxisH: 21, datasets: levelDatasets(LEVEL_TIMES_R, LEVEL_VALUES_R),
    yMin: 0.8, yMax: 5.2, yTicks: LEVEL_TICKS, yFmt: fmt0, yTitle: 'Corruption Level', yTitlePad: 17, xTitle: 'Time' },
];

// legend layout (positions only)
const LEGEND_BOX = { x: 88, y: 5, w: 579, h: 35 };
const LEGEND_LINE_X = [92, 182, 260, 440, 602];
const LEGEND_TEXT_X = [122, 212, 291, 468, 632];
const LEGEND_ROW_Y = [14, 30];

const legendPlugin = {
  id: 'gridLegend',
  afterDraw(chart: any) {
    const ctx = chart.ctx;
    ctx.save();
    const { x, y, w, h } = LEGEND_BOX;
    const r = 3;
    ctx.beginPath();
    ctx.moveTo(x + 0.5 + r, y + 0.5);
    ctx.lineTo(x + 0.5 + w - r, y + 0.5);
    ctx.arcTo(x + 0.5 + w, y + 0.5, x + 0.5 + w, y + 0.5 + r, r);
    ctx.lineTo(x + 0.5 + w, y + 0.5 + h - r);
    ctx.arcTo(x + 0.5 + w, y + 0.5 + h, x + 0.5 + w - r, y + 0.5 + h, r);
    ctx.lineTo(x + 0.5 + r, y + 0.5 + h);
    ctx.arcTo(x + 0.5, y + 0.5 + h, x + 0.5, y + 0.5 + h - r, r);
    ctx.lineTo(x + 0.5, y + 0.5 + r);
    ctx.arcTo(x + 0.5, y + 0.5, x + 0.5 + r, y + 0.5, r);
    ctx.closePath();
    ctx.fillStyle = 'rgba(255,255,255,0.85)';
    ctx.fill();
    ctx.strokeStyle = '#cccccc';
    ctx.lineWidth = 1;
    ctx.stroke();
    ctx.font = `10.5px ${FONT}`;
    ctx.textBaseline = 'middle';
    ctx.textAlign = 'left';
    METHODS.forEach((name, i) => {
      const col = Math.floor(i / 2);
      const row = i % 2;
      const ly = LEGEND_ROW_Y[row];
      ctx.strokeStyle = COLORS[i];
      ctx.lineWidth = 1.3;
      ctx.setLineDash(DASHED[i] ? DASH : []);
      ctx.beginPath();
      ctx.moveTo(LEGEND_LINE_X[col], ly);
      ctx.lineTo(LEGEND_LINE_X[col] + 22, ly);
      ctx.stroke();
      ctx.setLineDash([]);
      ctx.fillStyle = '#111';
      ctx.fillText(name, LEGEND_TEXT_X[col], ly + 0.5);
    });
    ctx.restore();
  },
};

function Panel({ spec }: { spec: Spec }) {
  const ref = useRef<HTMLCanvasElement | null>(null);
  useEffect(() => {
    if (!ref.current) return;
    const chart = new Chart(ref.current, buildConfig(spec));
    return () => chart.destroy();
  }, [spec]);
  return (
    <canvas
      ref={ref}
      width={spec.w}
      height={spec.h}
      style={{ position: 'absolute', left: spec.x, top: spec.y, width: spec.w, height: spec.h }}
    />
  );
}

function Legend() {
  const ref = useRef<HTMLCanvasElement | null>(null);
  useEffect(() => {
    if (!ref.current) return;
    const chart = new Chart(ref.current, {
      type: 'line',
      data: { datasets: [] },
      options: {
        animation: false,
        responsive: false,
        devicePixelRatio: 1,
        events: [],
        plugins: { legend: { display: false }, tooltip: { enabled: false } },
        scales: { x: { display: false }, y: { display: false } },
      },
      plugins: [legendPlugin],
    } as any);
    return () => chart.destroy();
  }, []);
  return (
    <canvas
      ref={ref}
      width={735}
      height={45}
      style={{ position: 'absolute', left: 0, top: 0, width: 735, height: 45, zIndex: 2 }}
    />
  );
}

export default function App() {
  return (
    <div
      style={{
        position: 'fixed', left: 0, top: 0, width: 735, height: 417,
        overflow: 'hidden', background: '#ffffff',
      }}
    >
      {SPECS.map((s) => (
        <Panel key={s.key} spec={s} />
      ))}
      <Legend />
    </div>
  );
}
